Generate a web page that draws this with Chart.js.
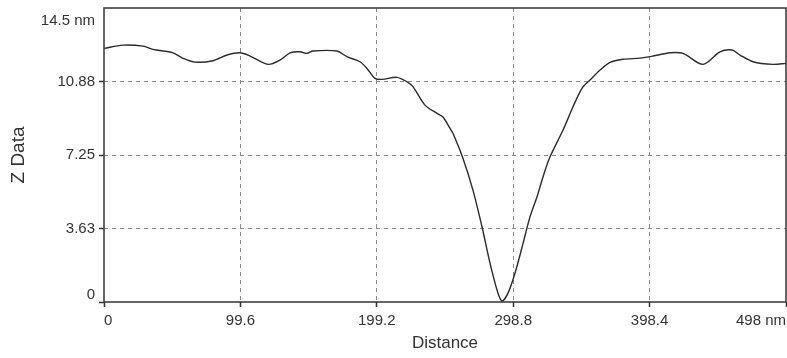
<!DOCTYPE html>
<html>
<head>
<meta charset="utf-8">
<script src="https://cdn.jsdelivr.net/npm/chart.js@4"></script>
<style>
  html, body { margin: 0; padding: 0; background: #fff; }
  #wrap { width: 787px; height: 358px; }
</style>
</head>
<body>
<div id="wrap"><canvas id="profileChart"></canvas></div>
<script>
// Section profile (distance in nm, height in nm)
const distance = [0, 13.9, 28.5, 35.8, 50.4, 57.7, 66.4, 79.6, 89.8, 99.3, 106.6, 119.8, 128.5,
  135.8, 143.1, 148.2, 152.6, 170.1, 177.4, 186.9, 192.0, 197.9, 203.0, 213.9, 221.3, 225.6,
  234.4, 243.2, 247.5, 252.6, 254.8, 262.1, 269.4, 276.0, 281.9, 287.0, 290.6, 295.0, 300.1,
  306.0, 311.1, 316.2, 320.6, 325.7, 335.2, 342.5, 349.0, 354.9, 362.2, 369.5, 379.0, 391.4,
  400.9, 413.3, 422.8, 437.4, 449.8, 458.6, 464.4, 473.9, 488.5, 498];
const zData = [12.51, 12.67, 12.62, 12.46, 12.29, 12.02, 11.83, 11.90, 12.18, 12.29, 12.13, 11.72, 11.93,
  12.29, 12.34, 12.26, 12.38, 12.38, 12.10, 11.85, 11.52, 11.03, 10.98, 11.08, 10.86, 10.62,
  9.71, 9.30, 9.12, 8.57, 8.32, 7.09, 5.52, 3.71, 1.91, 0.59, 0.05, 0.44, 1.42,
  2.89, 4.21, 5.19, 6.18, 7.16, 8.48, 9.63, 10.54, 10.95, 11.44, 11.82, 11.97, 12.03,
  12.13, 12.29, 12.26, 11.72, 12.34, 12.43, 12.18, 11.85, 11.72, 11.77];

// Axis ticks
const xTicks = [0, 99.6, 199.2, 298.8, 398.4, 498];
const xLabels = ['0', '99.6', '199.2', '298.8', '398.4', '498 nm'];
const yTicks = [0, 3.63, 7.25, 10.88, 14.5];
const yLabels = ['0', '3.63', '7.25', '10.88', '14.5 nm'];

const textColor = '#333';
const fontFamily = '"Liberation Sans", Arial, sans-serif';

// frame round the plot and the two end labels of the y axis, which sit inside the range
const framePlugin = {
  id: 'frame',
  afterDraw(chart) {
    const {ctx, chartArea: a, scales} = chart;
    ctx.save();
    ctx.strokeStyle = '#333';
    ctx.lineWidth = 1.5;
    ctx.strokeRect(a.left, a.top, a.right - a.left, a.bottom - a.top);

    ctx.fillStyle = textColor;
    ctx.font = '15px ' + fontFamily;
    ctx.textAlign = 'right';
    ctx.textBaseline = 'middle';
    const lx = a.left - 9;
    ctx.fillText(yLabels[yLabels.length - 1], lx, scales.y.getPixelForValue(yTicks[yTicks.length - 1]) + 13);
    ctx.fillText(yLabels[0], lx, scales.y.getPixelForValue(yTicks[0]) - 7);
    ctx.restore();
  }
};

function isEnd(scale, v) {
  return v === scale.min || v === scale.max;
}

const config = {
  type: 'line',
  data: {
    datasets: [{
      data: distance.map((d, i) => ({x: d, y: zData[i]})),
      borderColor: '#2b2b2b',
      borderWidth: 1.4,
      pointRadius: 0,
      tension: 0.3,
      fill: false
    }]
  },
  options: {
    responsive: true,
    maintainAspectRatio: false,
    animation: false,
    layout: { padding: { top: 8, right: 1, left: 0, bottom: 0 } },
    plugins: { legend: { display: false }, tooltip: { enabled: false } },
    scales: {
      x: {
        type: 'linear',
        min: 0,
        max: 498,
        afterBuildTicks: (scale) => { scale.ticks = xTicks.map(v => ({value: v})); },
        afterFit: (scale) => { scale.height = 56; scale.paddingLeft = 0; scale.paddingRight = 0; },
        border: { display: false, dash: [4, 4] },
        grid: {
          color: (c) => isEnd(c.scale, c.tick.value) ? 'rgba(0,0,0,0)' : '#8a8a8a',
          tickColor: '#333',
          tickBorderDash: [],
          tickLength: 5,
          tickWidth: 1.5
        },
        ticks: {
          autoSkip: false,
          maxRotation: 0,
          align: 'inner',
          padding: 5,
          color: textColor,
          font: { family: fontFamily, size: 15 },
          callback: (v, i) => xLabels[i]
        },
        title: {
          display: true,
          text: 'Distance',
          color: textColor,
          font: { family: fontFamily, size: 17 },
          padding: { top: 0, bottom: 4 }
        }
      },
      y: {
        min: 0,
        max: 14.5,
        afterBuildTicks: (scale) => { scale.ticks = yTicks.map(v => ({value: v})); },
        afterFit: (scale) => { scale.width = 104; scale.paddingTop = 0; scale.paddingBottom = 0; },
        border: { display: false, dash: [4, 4] },
        grid: {
          color: (c) => isEnd(c.scale, c.tick.value) ? 'rgba(0,0,0,0)' : '#8a8a8a',
          tickColor: (c) => c.tick && c.tick.value === c.scale.max ? 'rgba(0,0,0,0)' : '#333',
          tickBorderDash: [],
          tickLength: 5,
          tickWidth: 1.5
        },
        ticks: {
          padding: 4,
          color: textColor,
          font: { family: fontFamily, size: 15 },
          callback: (v, i) => (i === 0 || i === yLabels.length - 1) ? '' : yLabels[i]
        },
        title: {
          display: true,
          text: 'Z Data',
          color: textColor,
          font: { family: fontFamily, size: 19 },
          padding: { top: 7, bottom: 0 }
        }
      }
    }
  },
  plugins: [framePlugin]
};

window.addEventListener('DOMContentLoaded', () => {
  const profileChart = new Chart(document.getElementById('profileChart'), config);
});
</script>
</body>
</html>
